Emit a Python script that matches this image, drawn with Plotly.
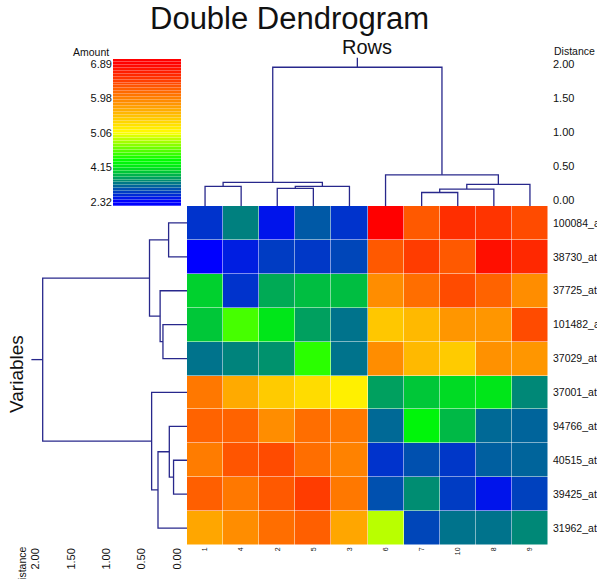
import numpy as np
import plotly.graph_objects as go

# ---------------- data ----------------
col_labels = ["1", "4", "2", "5", "3", "6", "7", "10", "8", "9"]
row_labels = ["100084_at", "38730_at", "37725_at", "101482_at", "37029_at",
              "37001_at", "94766_at", "40515_at", "39425_at", "31962_at"]

row_100084 = [2.72, 3.33, 2.48, 3.02, 2.72, 6.89, 6.25, 6.56, 6.52, 6.35]
row_38730 = [2.32, 2.56, 2.79, 2.76, 2.87, 6.25, 6.46, 6.25, 6.78, 6.60]
row_37725 = [3.97, 2.72, 3.66, 3.82, 3.82, 5.88, 6.10, 6.35, 6.18, 5.88]
row_101482 = [3.89, 4.53, 4.13, 3.58, 3.23, 5.46, 5.56, 5.81, 5.81, 6.35]
row_37029 = [3.23, 3.35, 3.47, 4.45, 3.23, 5.88, 5.56, 5.43, 5.85, 5.81]
row_37001 = [6.03, 5.67, 5.43, 5.31, 5.17, 3.58, 3.89, 4.05, 4.13, 3.39]
row_94766 = [6.18, 6.18, 5.88, 6.10, 6.03, 3.15, 4.25, 3.78, 3.15, 3.11]
row_40515 = [6.00, 6.28, 6.35, 6.10, 5.96, 2.72, 2.95, 2.75, 3.07, 3.11]
row_39425 = [6.21, 6.03, 6.25, 6.46, 6.03, 2.95, 3.43, 2.79, 2.48, 2.83]
row_31962 = [5.70, 5.88, 6.10, 6.21, 5.70, 4.86, 2.87, 3.23, 3.23, 3.39]

legend_ticks = [2.32, 4.15, 5.06, 5.98, 6.89]

# dendrogram merges: (child a, child b, height); leaves are 0..9 in display order,
# merged clusters numbered from 10 upward
col_merges = [(0, 1, 0.20), (2, 3, 0.17), (11, 4, 0.20), (10, 12, 0.26),
              (6, 7, 0.11), (14, 8, 0.16), (15, 9, 0.23), (5, 16, 0.37),
              (13, 17, 1.95)]
row_merges = [(0, 1, 0.12), (3, 4, 0.20), (2, 11, 0.24), (10, 12, 0.39),
              (7, 8, 0.05), (6, 14, 0.11), (15, 9, 0.27), (5, 16, 0.36),
              (13, 17, 1.90)]

values = [row_100084, row_38730, row_37725, row_101482, row_37029,
          row_37001, row_94766, row_40515, row_39425, row_31962]

# ---------------- style / layout ----------------
W, H = 597, 579
FONT = "Liberation Sans, Arial, Helvetica, sans-serif"
LINE = "rgb(40,40,140)"
ZMIN, ZMAX = legend_ticks[0], legend_ticks[-1]
GREEN_AT = 4.33


def nx(px):
    return px / W


def ny(px):
    return 1 - px / H


def norm(v):
    return (v - ZMIN) / (ZMAX - ZMIN)


colorscale = [[0.0, "rgb(0,0,255)"], [norm(GREEN_AT), "rgb(0,255,0)"],
              [norm(legend_ticks[2]), "rgb(255,255,0)"], [1.0, "rgb(255,0,0)"]]


def dendro(merges, n, leaf_h, stub):
    pos = list(range(n))
    hgt = [leaf_h] * n
    P, Hh = [], []
    for a, b, h in merges:
        P += [pos[a], pos[a], pos[b], pos[b], None]
        Hh += [hgt[a], h, h, hgt[b], None]
        pos.append((pos[a] + pos[b]) / 2)
        hgt.append(h)
    P += [pos[-1], pos[-1], None]
    Hh += [hgt[-1], hgt[-1] + stub, None]
    return P, Hh


HM_X = [nx(187), nx(548)]
HM_Y = [ny(545), ny(206)]
TOP_RANGE = [-0.088, 2.13]
LEFT_RANGE = [2.15, -0.14]

fig = go.Figure()

# heatmap
fig.add_trace(go.Heatmap(
    z=values, x=list(range(10)), y=list(range(10)),
    colorscale=colorscale, zmin=ZMIN, zmax=ZMAX, showscale=False,
    xgap=0.5, ygap=0.5, xaxis="x", yaxis="y", hoverinfo="z"))

# column dendrogram (top)
cp, ch = dendro(col_merges, 10, TOP_RANGE[0], 0.14)
fig.add_trace(go.Scatter(x=cp, y=ch, mode="lines", line=dict(color=LINE, width=1.3),
                         xaxis="x2", yaxis="y2", hoverinfo="skip"))

# row dendrogram (left)
rp, rh = dendro(row_merges, 10, LEFT_RANGE[1], 0.16)
fig.add_trace(go.Scatter(x=rh, y=rp, mode="lines", line=dict(color=LINE, width=1.3),
                         xaxis="x3", yaxis="y3", hoverinfo="skip"))

# colour legend
NB = 50
edges = np.linspace(-0.031, 1.036, NB + 1)
centers = (edges[:-1] + edges[1:]) / 2
legend_z = np.interp(centers, [0, 0.25, 0.5, 0.75, 1.0], legend_ticks)
fig.add_trace(go.Heatmap(
    z=[[v] for v in legend_z], x=[0], y=centers,
    colorscale=colorscale, zmin=ZMIN, zmax=ZMAX, showscale=False, ygap=0.3,
    xaxis="x4", yaxis="y4", hoverinfo="skip"))

base = dict(showgrid=False, zeroline=False, showline=False, ticks="", automargin=False)
hidden = dict(showticklabels=False, **base)
tickfont = dict(family=FONT, size=11, color="#111")
rowfont = dict(family=FONT, size=10.5, color="#111")

fig.update_layout(
    width=W, height=H, margin=dict(l=0, r=0, t=0, b=0, autoexpand=False),
    paper_bgcolor="white", plot_bgcolor="white", showlegend=False,
    font=dict(family=FONT, color="#111"),
    xaxis=dict(domain=HM_X, range=[-0.5, 9.5], anchor="y", tickvals=list(range(10)),
               ticktext=col_labels, tickangle=-90,
               tickfont=dict(family=FONT, size=7, color="#111"), **base),
    yaxis=dict(domain=HM_Y, range=[9.5, -0.5], anchor="x", side="right",
               tickvals=list(range(10)), ticktext=row_labels, tickfont=rowfont,
               ticklabelstandoff=4, **base),
    xaxis2=dict(domain=HM_X, range=[-0.5, 9.5], anchor="y2", **hidden),
    yaxis2=dict(domain=[ny(206), ny(55)], range=TOP_RANGE, anchor="x2", side="right",
                tickvals=[0, 0.5, 1, 1.5, 2], ticktext=["0.00", "0.50", "1.00", "1.50", "2.00"],
                tickfont=tickfont, ticklabelstandoff=4, **base),
    xaxis3=dict(domain=[nx(25), nx(187)], range=LEFT_RANGE, anchor="y3",
                tickvals=[0, 0.5, 1, 1.5, 2], ticktext=["0.00", "0.50", "1.00", "1.50", "2.00"],
                tickangle=-90, tickfont=tickfont, **base),
    yaxis3=dict(domain=HM_Y, range=[9.5, -0.5], anchor="x3", **hidden),
    xaxis4=dict(domain=[nx(113), nx(181)], range=[-0.5, 0.5], anchor="y4", **hidden),
    yaxis4=dict(domain=[ny(206), ny(59)], range=[-0.031, 1.036], anchor="x4",
                tickvals=[0, 0.25, 0.5, 0.75, 1.0],
                ticktext=["%.2f" % v for v in legend_ticks], tickfont=tickfont, **base),
)

ann = [
    dict(text="Double Dendrogram", x=nx(289), y=ny(19), font=dict(size=31)),
    dict(text="Rows", x=nx(367), y=ny(47), font=dict(size=20)),
    dict(text="Variables", x=nx(16), y=ny(374), font=dict(size=19), textangle=-90),
    dict(text="Amount", x=nx(91), y=ny(52), font=dict(size=10.5)),
    dict(text="Distance", x=nx(552), y=ny(51), font=dict(size=10.5), xanchor="left"),
    dict(text="Distance", x=nx(21), y=ny(545), font=dict(size=10.5), textangle=-90,
         yanchor="top"),
]
for a in ann:
    a.setdefault("xanchor", "center")
    a.setdefault("yanchor", "middle")
    a["font"] = dict(family=FONT, color="#111", **a["font"])
    fig.add_annotation(xref="paper", yref="paper", showarrow=False, **a)

fig.write_html("out.html", config={"displayModeBar": False},
               post_script="document.body.style.margin='0';document.body.style.overflow='hidden';")
